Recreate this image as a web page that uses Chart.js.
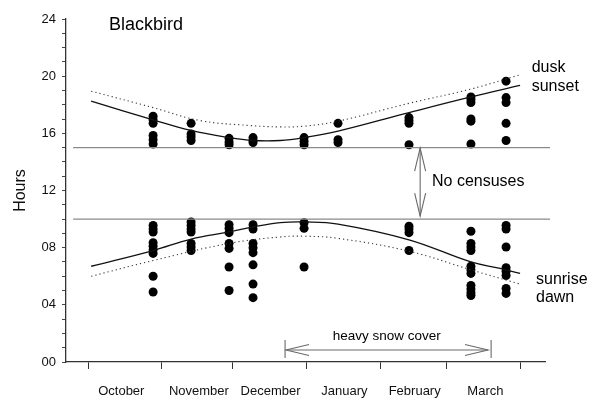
<!DOCTYPE html>
<html>
<head>
<meta charset="utf-8">
<script src="https://cdn.jsdelivr.net/npm/chart.js@4.4.1/dist/chart.umd.min.js"></script>
<style>
  html, body { margin: 0; padding: 0; background: #fff; }
</style>
</head>
<body>
<canvas id="chart" width="592" height="399"></canvas>
<script>
// x axis is days counted from 1 October
const monthNames = ['October', 'November', 'December', 'January', 'February', 'March'];
const monthStarts = [0, 31, 61, 92, 123, 151, 182];
const monthLabelDays = [14, 46.7, 76.9, 108, 137.6, 167.4];

// census days and observed times (hours)
const censusDays = [27.4, 43.4, 59.4, 69.5, 91, 105.3, 135.2, 161.3, 176.1];
const eveningTimes = [
  [17.2, 16.95, 16.7, 15.85, 15.55, 15.25],
  [16.7, 15.95, 15.75, 15.5],
  [15.65, 15.4, 15.2],
  [15.7, 15.5, 15.35],
  [15.7, 15.45, 15.2],
  [16.7, 15.55, 15.35],
  [17.1, 16.9, 16.7, 15.2],
  [18.55, 18.35, 18.15, 17.0, 16.85, 15.25],
  [19.65, 18.5, 18.15, 16.7, 15.5]
];
const morningTimes = [
  [9.55, 9.3, 9.1, 8.35, 8.1, 7.85, 7.6, 6.0, 4.9],
  [9.8, 9.55, 9.3, 9.1, 8.3, 8.05, 7.8],
  [9.6, 9.35, 9.05, 8.3, 7.95, 6.65, 5.0],
  [9.6, 9.3, 8.3, 8.0, 7.65, 6.8, 5.45, 4.5],
  [9.75, 9.35, 6.65],
  [],
  [9.5, 9.3, 9.05, 7.8],
  [9.15, 8.3, 8.05, 7.8, 6.7, 6.45, 6.2, 5.35, 5.1, 4.85, 4.65],
  [9.55, 9.3, 8.05, 6.6, 6.35, 6.05, 5.15, 4.8]
];

// sun curves
const sunsetDays = [1.3, 27.4, 43.4, 59.4, 69.5, 81, 91, 105.3, 135.2, 161.3, 182];
const sunsetHours = [18.25, 16.95, 16.2, 15.7, 15.5, 15.5, 15.7, 16.15, 17.45, 18.55, 19.35];
const duskDays = [1.3, 27.4, 47, 68, 81, 91, 105.3, 135.2, 161.3, 182];
const duskHours = [18.95, 17.8, 16.9, 16.55, 16.45, 16.5, 16.85, 18.1, 19.1, 20.1];
const sunriseDays = [1.3, 27.4, 43.4, 59.4, 69.5, 81, 91, 105.3, 135.2, 161.3, 173.6, 182];
const sunriseHours = [6.7, 7.8, 8.6, 9.1, 9.45, 9.75, 9.8, 9.65, 8.55, 7.0, 6.55, 6.2];
const dawnDays = [1.3, 27.4, 59.4, 81, 91, 105.3, 135.2, 161.3, 182];
const dawnHours = [6.0, 7.1, 8.3, 8.75, 8.8, 8.65, 7.75, 6.45, 5.45];

// census gap limits and their line extent
const gapHours = [15, 10];
const gapLineDays = [-6.3, 194.6];

const FONT = "'Liberation Sans', Arial, sans-serif";

function pairs(xs, ys) {
  return xs.map((x, i) => ({ x, y: ys[i] }));
}

function censusPoints(times) {
  const pts = [];
  times.forEach((col, i) => col.forEach(h => pts.push({ x: censusDays[i], y: h })));
  return pts;
}

function curve(data, dashed) {
  return {
    type: 'line',
    data,
    borderColor: dashed ? '#333' : '#111',
    borderWidth: dashed ? 1.1 : 1.3,
    borderDash: dashed ? [1.2, 3] : [],
    pointRadius: 0,
    tension: 0.4,
    fill: false
  };
}

function gapLine(h) {
  return {
    type: 'line',
    data: gapLineDays.map(d => ({ x: d, y: h })),
    borderColor: '#8a8a8a',
    borderWidth: 1.2,
    pointRadius: 0,
    clip: false
  };
}

// arrows and notes, positions in data units
const annotations = {
  id: 'annotations',
  afterDatasetsDraw(chart) {
    const { ctx, scales: { x, y } } = chart;
    ctx.save();
    ctx.strokeStyle = '#6a6a6a';
    ctx.lineWidth = 1.1;

    function head(tx, ty, dx, dy) {
      const len = 23, half = 5.5;
      const px = -dy, py = dx;
      ctx.beginPath();
      ctx.moveTo(tx + dx * len + px * half, ty + dy * len + py * half);
      ctx.lineTo(tx, ty);
      ctx.lineTo(tx + dx * len - px * half, ty + dy * len - py * half);
      ctx.stroke();
    }

    // "No censuses" arrow
    const vx = x.getPixelForValue(139.9);
    const vTop = y.getPixelForValue(14.97), vBot = y.getPixelForValue(10.2);
    ctx.beginPath(); ctx.moveTo(vx, vTop); ctx.lineTo(vx, vBot); ctx.stroke();
    head(vx, vTop, 0, 1);
    head(vx, vBot, 0, -1);

    // snow cover arrow
    const hy = y.getPixelForValue(0.84);
    const hl = x.getPixelForValue(83.4), hr = x.getPixelForValue(168.5);
    ctx.beginPath(); ctx.moveTo(hl, hy); ctx.lineTo(hr, hy); ctx.stroke();
    head(hl, hy, 1, 0);
    head(hr, hy, -1, 0);
    [83.0, 169.8].forEach(d => {
      const bx = x.getPixelForValue(d);
      ctx.beginPath();
      ctx.moveTo(bx, y.getPixelForValue(1.54));
      ctx.lineTo(bx, y.getPixelForValue(0.28));
      ctx.stroke();
    });

    ctx.fillStyle = '#000';
    ctx.textBaseline = 'alphabetic';
    function text(s, d, h, size, align) {
      ctx.font = size + 'px ' + FONT;
      ctx.textAlign = align;
      ctx.fillText(s, x.getPixelForValue(d), y.getPixelForValue(h));
    }
    text('Blackbird', 24.4, 23.2, 18, 'center');
    text('dusk', 186.9, 20.3, 16, 'left');
    text('sunset', 186.9, 18.95, 16, 'left');
    text('sunrise', 188.7, 5.45, 16, 'left');
    text('dawn', 188.7, 4.2, 16, 'left');
    text('No censuses', 144.9, 12.3, 16, 'left');
    text('heavy snow cover', 125.8, 1.54, 13.5, 'center');
    ctx.restore();
  }
};

const ctx = document.getElementById('chart').getContext('2d');
new Chart(ctx, {
  type: 'scatter',
  data: {
    datasets: [
      gapLine(gapHours[0]),
      gapLine(gapHours[1]),
      curve(pairs(sunsetDays, sunsetHours), false),
      curve(pairs(duskDays, duskHours), true),
      curve(pairs(sunriseDays, sunriseHours), false),
      curve(pairs(dawnDays, dawnHours), true),
      {
        data: censusPoints(eveningTimes).concat(censusPoints(morningTimes)),
        backgroundColor: '#000',
        borderColor: '#000',
        borderWidth: 0,
        pointRadius: 4.5
      }
    ]
  },
  options: {
    responsive: false,
    animation: false,
    devicePixelRatio: 1,
    layout: { padding: { top: 19, right: 47, left: 0, bottom: 0 } },
    plugins: { legend: { display: false }, tooltip: { enabled: false } },
    scales: {
      x: {
        type: 'linear',
        min: -9.3,
        max: 192.5,
        afterFit: s => { s.height = 37; },
        afterBuildTicks: s => {
          s.ticks = monthStarts.concat(monthLabelDays).sort((a, b) => a - b).map(v => ({ value: v }));
        },
        ticks: {
          autoSkip: false,
          maxRotation: 0,
          padding: 15,
          color: '#111',
          font: { family: FONT, size: 13 },
          callback: v => {
            const i = monthLabelDays.indexOf(v);
            return i >= 0 ? monthNames[i] : '';
          }
        },
        grid: {
          drawOnChartArea: false,
          tickLength: 7,
          tickColor: c => (c.tick && monthStarts.includes(c.tick.value)) ? '#333' : 'rgba(0,0,0,0)'
        },
        border: { color: '#333', width: 1.3 }
      },
      y: {
        min: 0,
        max: 24,
        afterFit: s => { s.width = 66; },
        ticks: {
          stepSize: 1,
          autoSkip: false,
          padding: 6,
          color: '#111',
          font: { family: FONT, size: 13 },
          callback: v => v % 4 === 0 ? String(v).padStart(2, '0') : ''
        },
        grid: { drawOnChartArea: false, tickLength: 4, tickColor: '#444' },
        border: { color: '#333', width: 1.3 },
        title: {
          display: true,
          text: 'Hours',
          color: '#111',
          font: { family: FONT, size: 16 },
          padding: { top: 11, bottom: 0 }
        }
      }
    }
  },
  plugins: [annotations]
});
</script>
</body>
</html>
